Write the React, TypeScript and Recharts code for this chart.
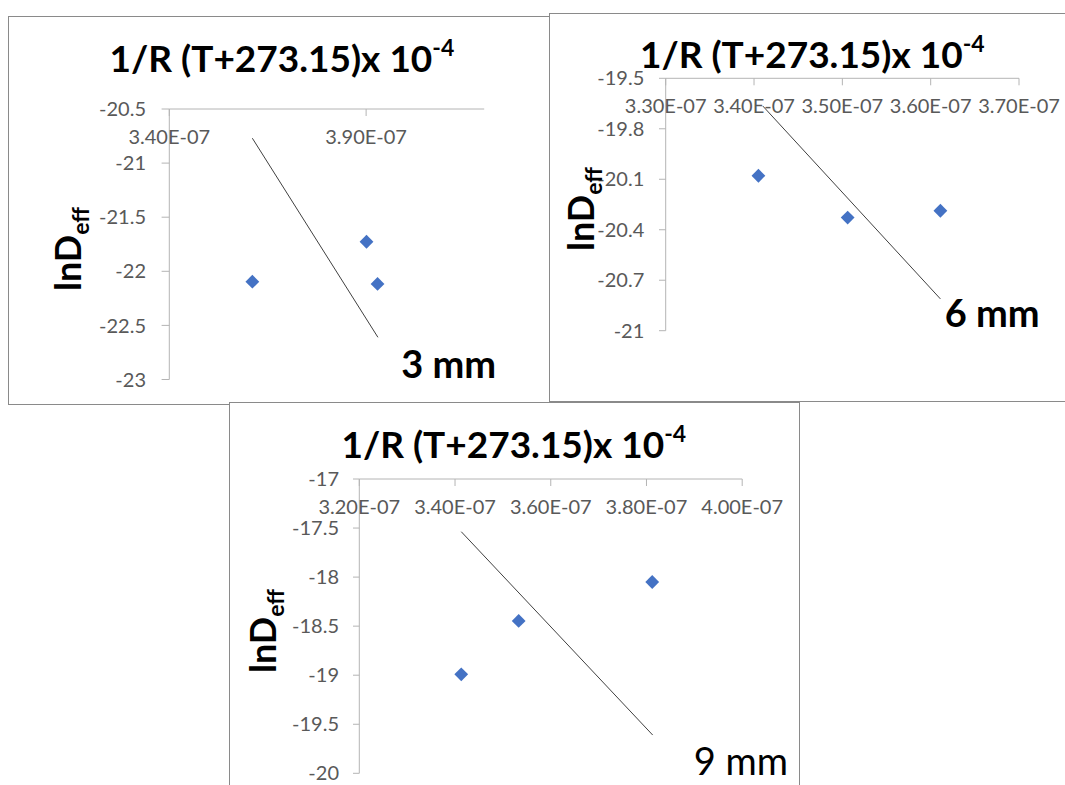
import { ScatterChart, Scatter, XAxis, YAxis, ReferenceLine } from "recharts";

const FONT = "Lato, 'Open Sans', sans-serif";
const MARK = "#4472C4";
const AXIS = "#b4b4b4";
const TICK_TEXT = "#595959";
const TICK_FONT = 20;

// 3 mm
const x3mm = [3.611e-7, 3.901e-7, 3.929e-7];
const y3mm = [-22.096, -21.727, -22.117];
const fit3mmX = [3.611e-7, 3.93e-7];
const fit3mmY = [-20.77, -22.61];
const xTicks3mm = [3.4e-7, 3.9e-7];
const yTicks3mm = [-23, -22.5, -22, -21.5, -21, -20.5];

// 6 mm
const x6mm = [3.405e-7, 3.506e-7, 3.611e-7];
const y6mm = [-20.079, -20.328, -20.287];
const fit6mmX = [3.41e-7, 3.611e-7];
const fit6mmY = [-19.665, -20.811];
const xTicks6mm = [3.3e-7, 3.4e-7, 3.5e-7, 3.6e-7, 3.7e-7];
const yTicks6mm = [-21, -20.7, -20.4, -20.1, -19.8, -19.5];

// 9 mm
const x9mm = [3.413e-7, 3.533e-7, 3.812e-7];
const y9mm = [-18.991, -18.447, -18.05];
const fit9mmX = [3.413e-7, 3.813e-7];
const fit9mmY = [-17.537, -19.61];
const xTicks9mm = [3.2e-7, 3.4e-7, 3.6e-7, 3.8e-7, 4.0e-7];
const yTicks9mm = [-20, -19.5, -19, -18.5, -18, -17.5, -17];

const TITLE = "1/R (T+273.15)x 10";

// Excel style "3.40E-07"
const sci = (v: number) => {
  const [m, e] = v.toExponential(2).split("e");
  const n = parseInt(e, 10);
  return `${m}E${n < 0 ? "-" : "+"}${String(Math.abs(n)).padStart(2, "0")}`;
};

const Diamond = (p: any) => {
  const { cx, cy } = p;
  const r = 6.9;
  return (
    <polygon
      points={`${cx},${cy - r} ${cx + r},${cy} ${cx},${cy + r} ${cx - r},${cy}`}
      fill={MARK}
    />
  );
};

// x axis sits on top, but labels hang below the line
const XTick = (p: any) => {
  const { x, y, payload } = p;
  return (
    <g>
      <line x1={x} y1={y} x2={x} y2={y + 7} stroke={AXIS} />
      <text x={x} y={y + 35} textAnchor="middle" fontSize={TICK_FONT} fill={TICK_TEXT} fontFamily={FONT}>
        {sci(payload.value)}
      </text>
    </g>
  );
};

function Panel(props: any) {
  const { box, plot, xs, ys, fitX, fitY, xDomain, xTicks, yTicks, yTickSize, yTickMargin, title, ylab, mm } = props;
  const yAxisW = 80;
  const xAxisH = 20;
  const margin = {
    left: plot.l - box.x - yAxisW,
    right: box.x + box.w - plot.r,
    top: plot.t - box.y - xAxisH,
    bottom: box.y + box.h - plot.b,
  };
  const data = xs.map((x: number, i: number) => ({ x, y: ys[i] }));
  return (
    <div
      style={{
        position: "absolute",
        left: box.x,
        top: box.y,
        width: box.w,
        height: box.h,
        background: "#fff",
        overflow: "hidden",
      }}
    >
      <div style={{ position: "absolute", left: 0, top: 0 }}>
        <ScatterChart width={box.w} height={box.h} margin={margin}>
          <XAxis
            type="number"
            dataKey="x"
            orientation="top"
            height={xAxisH}
            domain={xDomain}
            ticks={xTicks}
            interval={0}
            tickSize={0}
            tickMargin={0}
            tickLine={false}
            axisLine={{ stroke: AXIS }}
            tick={<XTick />}
          />
          <YAxis
            type="number"
            dataKey="y"
            width={yAxisW}
            domain={[yTicks[0], yTicks[yTicks.length - 1]]}
            ticks={yTicks}
            interval={0}
            tickSize={yTickSize}
            tickMargin={yTickMargin}
            tickLine={{ stroke: AXIS }}
            axisLine={{ stroke: AXIS }}
            tick={{ fill: TICK_TEXT, fontSize: TICK_FONT, fontFamily: FONT }}
          />
          <ReferenceLine
            segment={[
              { x: fitX[0], y: fitY[0] },
              { x: fitX[1], y: fitY[1] },
            ]}
            stroke="#404040"
            strokeWidth={1}
          />
          <Scatter data={data} shape={<Diamond />} isAnimationActive={false} />
        </ScatterChart>
      </div>
      <svg
        width={box.w}
        height={box.h}
        style={{ position: "absolute", left: 0, top: 0, pointerEvents: "none" }}
        fontFamily={FONT}
      >
        <text x={title.cx - box.x} y={title.base - box.y} textAnchor="middle" fontSize={37} fontWeight={700} fill="#000">
          {TITLE}
          <tspan dy={-16} fontSize={23}>-4</tspan>
        </text>
        <text
          transform={`translate(${ylab.base - box.x},${ylab.cy - box.y}) rotate(-90)`}
          textAnchor="middle"
          fontSize={36}
          fontWeight={700}
          fill="#000"
        >
          lnD
          <tspan dy={8} fontSize={23}>eff</tspan>
        </text>
        <text
          x={mm.cx - box.x}
          y={mm.base - box.y}
          textAnchor="middle"
          fontSize={38}
          fontWeight={mm.bold ? 700 : 400}
          fill="#000"
        >
          {mm.text}
        </text>
      </svg>
      <div
        style={{
          position: "absolute",
          left: 0,
          top: 0,
          width: box.w,
          height: box.h,
          boxSizing: "border-box",
          border: "1px solid #8a8a8a",
        }}
      />
    </div>
  );
}

export default function App() {
  return (
    <div
      style={{
        position: "absolute",
        left: 0,
        top: 0,
        width: 1065,
        height: 785,
        background: "#fff",
        overflow: "hidden",
      }}
    >
      <Panel
        box={{ x: 8, y: 16, w: 560, h: 389 }}
        plot={{ l: 169.3, r: 484.2, t: 109, b: 379.5 }}
        xs={x3mm}
        ys={y3mm}
        fitX={fit3mmX}
        fitY={fit3mmY}
        xDomain={[3.4e-7, 4.2e-7]}
        xTicks={xTicks3mm}
        yTicks={yTicks3mm}
        yTickSize={7.7}
        yTickMargin={15.6}
        title={{ cx: 281.9, base: 71.7 }}
        ylab={{ base: 80.6, cy: 249 }}
        mm={{ text: "3 mm", cx: 448.7, base: 378.3, bold: true }}
      />
      <Panel
        box={{ x: 549, y: 13, w: 530, h: 389 }}
        plot={{ l: 665.7, r: 1019, t: 78.3, b: 330.7 }}
        xs={x6mm}
        ys={y6mm}
        fitX={fit6mmX}
        fitY={fit6mmY}
        xDomain={[3.3e-7, 3.7e-7]}
        xTicks={xTicks6mm}
        yTicks={yTicks6mm}
        yTickSize={6.7}
        yTickMargin={14.7}
        title={{ cx: 812.3, base: 68 }}
        ylab={{ base: 594.3, cy: 209 }}
        mm={{ text: "6 mm", cx: 992.2, base: 326.7, bold: true }}
      />
      <Panel
        box={{ x: 229, y: 402, w: 571, h: 400 }}
        plot={{ l: 359.3, r: 742.2, t: 479, b: 773.3 }}
        xs={x9mm}
        ys={y9mm}
        fitX={fit9mmX}
        fitY={fit9mmY}
        xDomain={[3.2e-7, 4.0e-7]}
        xTicks={xTicks9mm}
        yTicks={yTicks9mm}
        yTickSize={6.3}
        yTickMargin={14}
        title={{ cx: 513.8, base: 458.3 }}
        ylab={{ base: 276, cy: 631 }}
        mm={{ text: "9 mm", cx: 740.8, base: 775, bold: false }}
      />
    </div>
  );
}
